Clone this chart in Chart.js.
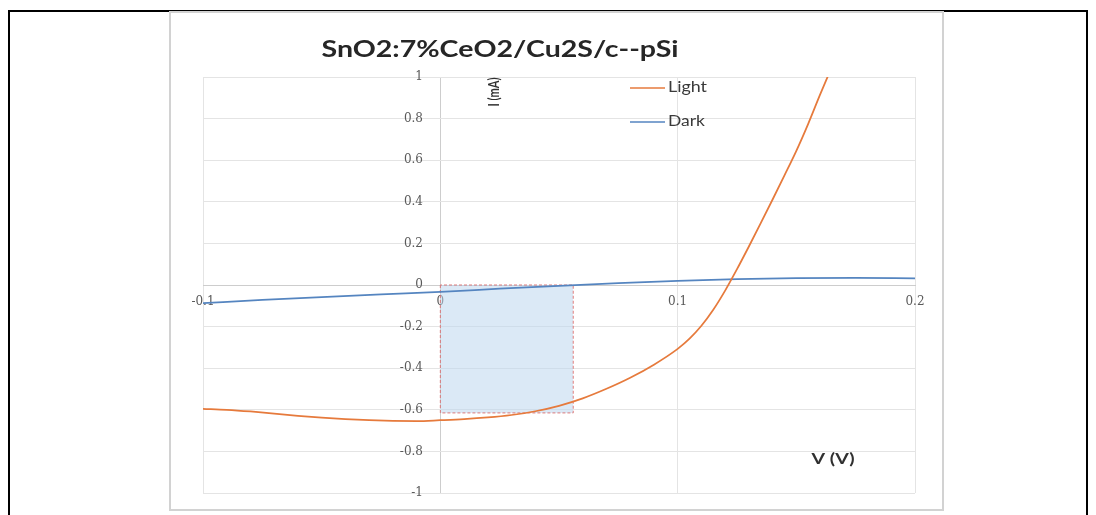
<!DOCTYPE html>
<html>
<head>
<meta charset="utf-8">
<script src="https://cdn.jsdelivr.net/npm/chart.js@4.4.1/dist/chart.umd.min.js"></script>
<style>
  html, body { margin: 0; padding: 0; background: #fff; overflow: hidden; }
  #frame { position: absolute; left: 8px; top: 10px; width: 1076px; height: 520px;
           border: 2px solid #000; border-bottom: none; }
  #panel { position: absolute; left: 169px; top: 11px; width: 771px; height: 496px;
           border: 2px solid #d2d2d2; }
  #wrap  { position: absolute; left: 0; top: 0; width: 1096px; height: 515px; }
</style>
</head>
<body>
<div id="frame"></div>
<div id="panel"></div>
<div id="wrap"><canvas id="c" width="1096" height="515"></canvas></div>
<script>
// I-V curve of the SnO2:7%CeO2/Cu2S/c-pSi cell, illuminated and in the dark
const chartTitle = 'SnO2:7%CeO2/Cu2S/c--pSi';
const xTitle = 'V (V)';
const yTitle = 'I (mA)';

// Illuminated curve: voltage (V) and current (mA)
const lightV = [-0.1, -0.09, -0.08, -0.07, -0.06, -0.05, -0.04, -0.03, -0.02, -0.01,
                0, 0.01, 0.02, 0.03, 0.04, 0.05, 0.06, 0.07, 0.08, 0.09,
                0.1, 0.105, 0.11, 0.115, 0.12, 0.125, 0.13, 0.135, 0.14, 0.145,
                0.15, 0.155, 0.16, 0.165, 0.17];
const lightI = [-0.595, -0.600, -0.608, -0.618, -0.629, -0.638, -0.645, -0.650, -0.653, -0.654,
                -0.650, -0.645, -0.637, -0.625, -0.607, -0.581, -0.545, -0.499, -0.446, -0.383,
                -0.307, -0.258, -0.196, -0.119, -0.027, 0.076, 0.185, 0.297, 0.411, 0.527,
                0.645, 0.775, 0.915, 1.050, 1.190];

// Dark curve
const darkV = [-0.1, -0.075, -0.05, -0.025, 0, 0.025, 0.05, 0.075, 0.1, 0.125, 0.15, 0.175, 0.2];
const darkI = [-0.087, -0.072, -0.058, -0.045, -0.033, -0.018, -0.004, 0.009, 0.020, 0.028, 0.033, 0.034, 0.032];

// Maximum power point (Vm, Im) spanning the shaded rectangle
const mppV = 0.056;
const mppI = -0.615;

// Tick values
const vTicks = [-0.1, 0, 0.1, 0.2];
const iTicks = [-1, -0.8, -0.6, -0.4, -0.2, 0, 0.2, 0.4, 0.6, 0.8, 1];

const series = [
  { label: 'Light', v: lightV, i: lightI, color: '#e67a3c' },
  { label: 'Dark',  v: darkV,  i: darkI,  color: '#5585c0' }
];

const gridGrey = '#e4e4e4';
const axisGrey = '#cdcdcd';
const tickFont = { family: 'DejaVu Serif', size: 12 };
const tickText = v => String(Math.round(v * 10) / 10);

const curveSets = series.map(s => ({
  label: s.label,
  data: s.v.map((v, k) => ({ x: v, y: s.i[k] })),
  borderColor: s.color,
  backgroundColor: s.color,
  borderWidth: 1.75,
  pointRadius: 0,
  fill: false,
  cubicInterpolationMode: 'monotone'
}));

// shaded area Vm x Im, filled up to the V axis
const mppFill = {
  label: 'PmaxArea',
  data: [{ x: 0, y: mppI }, { x: mppV, y: mppI }],
  borderWidth: 0,
  borderColor: 'rgba(0,0,0,0)',
  backgroundColor: 'rgba(189,215,238,0.55)',
  pointRadius: 0,
  tension: 0,
  fill: 'origin'
};

// dashed outline of the same rectangle
const mppEdge = {
  label: 'PmaxEdge',
  data: [
    { x: 0, y: 0 }, { x: 0, y: mppI }, { x: mppV, y: mppI }, { x: mppV, y: 0 }, { x: 0, y: 0 }
  ],
  borderColor: 'rgba(218,110,110,0.9)',
  borderWidth: 1,
  borderDash: [3, 2],
  pointRadius: 0,
  tension: 0,
  fill: false
};

// draws text stretched horizontally to a given width
function fittedText(ctx, text, cx, cy, font, width, align) {
  ctx.font = font;
  const w = ctx.measureText(text).width;
  ctx.save();
  ctx.translate(cx, cy);
  ctx.scale(width / w, 1);
  ctx.textAlign = align || 'center';
  ctx.textBaseline = 'middle';
  ctx.fillText(text, 0, 0);
  ctx.restore();
}

const labelsPlugin = {
  id: 'ivLabels',
  afterDraw(chart) {
    const ctx = chart.ctx;
    ctx.save();
    // title
    ctx.fillStyle = '#262626';
    ctx.font = 'bold 23px Lato';
    const tw = ctx.measureText(chartTitle).width;
    ctx.save();
    ctx.translate(500, 57);
    ctx.scale(357 / tw, 1);
    ctx.textAlign = 'center';
    ctx.textBaseline = 'alphabetic';
    ctx.fillText(chartTitle, 0, 0);
    ctx.restore();

    // axis titles
    ctx.fillStyle = '#303030';
    fittedText(ctx, xTitle, 833, 459, 'bold 16px Lato', 43);
    ctx.save();
    ctx.translate(494, 92);
    ctx.rotate(-Math.PI / 2);
    ctx.font = 'bold 12px Lato';
    const yw = ctx.measureText(yTitle).width;
    ctx.scale(29 / yw, 1.3);
    ctx.textAlign = 'center';
    ctx.textBaseline = 'middle';
    ctx.fillText(yTitle, 0, 0);
    ctx.restore();

    // legend
    const rows = [88, 122];
    const widths = [39, 37];
    chart.data.datasets.slice(0, 2).forEach((ds, k) => {
      const y = rows[k];
      ctx.strokeStyle = ds.borderColor;
      ctx.lineWidth = 1.5;
      ctx.beginPath();
      ctx.moveTo(630, y);
      ctx.lineTo(665, y);
      ctx.stroke();
      ctx.fillStyle = '#3a3a3a';
      fittedText(ctx, ds.label, 668, y - 1, '15px Lato', widths[k], 'left');
    });
    ctx.restore();
  }
};

new Chart(document.getElementById('c'), {
  type: 'scatter',
  data: { datasets: [...curveSets, mppEdge, mppFill] },
  options: {
    responsive: false,
    animation: false,
    devicePixelRatio: 1,
    showLine: true,
    layout: { padding: { left: 203, right: 181, top: 77, bottom: 22 } },
    plugins: { legend: { display: false }, tooltip: { enabled: false }, title: { display: false } },
    scales: {
      x: {
        type: 'linear',
        min: -0.1, max: 0.2,
        position: { y: 0 },
        afterBuildTicks: s => { s.ticks = vTicks.map(v => ({ value: v })); },
        grid: {
          color: c => (c.tick && c.tick.value === 0) ? axisGrey : gridGrey,
          drawTicks: false
        },
        border: { display: true, color: axisGrey },
        ticks: { font: tickFont, color: '#5a5a5a', padding: 10, maxRotation: 0, autoSkip: false, callback: tickText }
      },
      y: {
        type: 'linear',
        min: -1, max: 1,
        position: { x: -0.0073 },
        afterBuildTicks: s => { s.ticks = iTicks.map(v => ({ value: v })); },
        grid: { color: gridGrey, drawTicks: false },
        border: { display: false },
        ticks: { font: tickFont, color: '#5a5a5a', autoSkip: false, callback: tickText }
      }
    }
  },
  plugins: [labelsPlugin]
});
</script>
</body>
</html>
